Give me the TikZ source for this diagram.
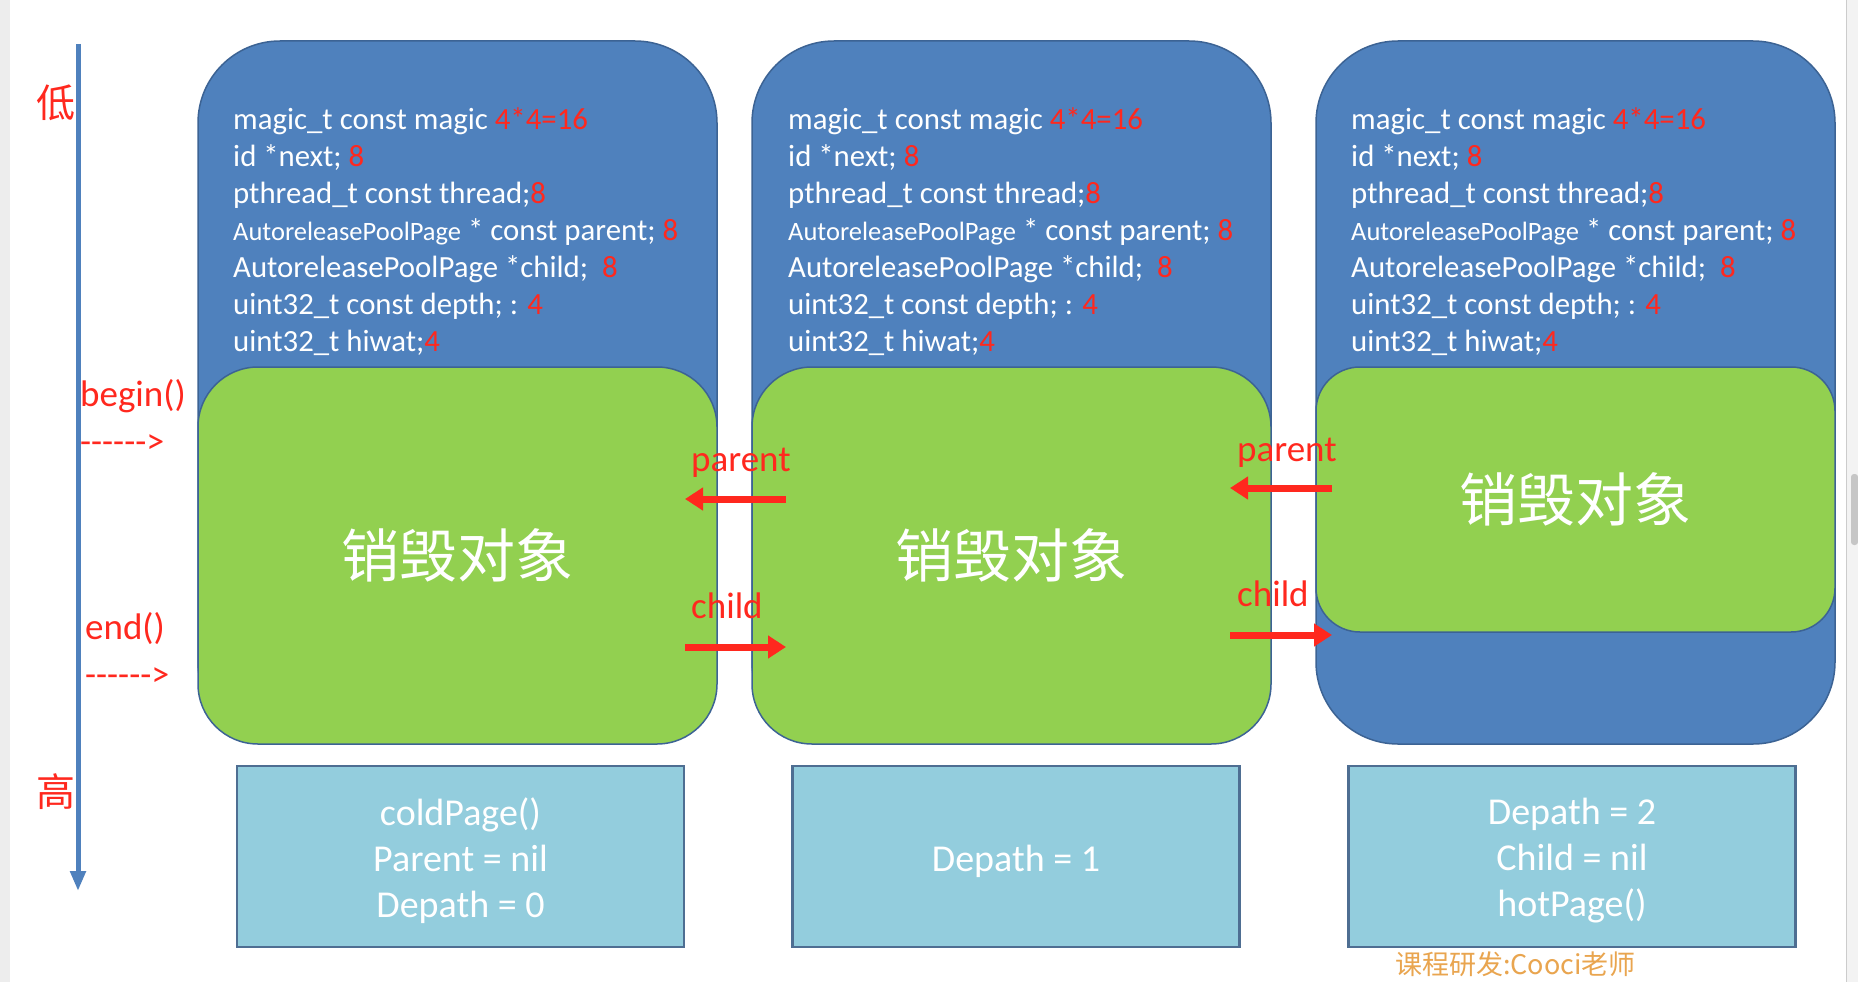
\documentclass[tikz,border=0pt]{standalone}
\usepackage{fontspec}
\setmainfont{Carlito}
\newfontfamily\cjk{Noto Sans CJK SC}
\usetikzlibrary{arrows.meta}
\definecolor{pblue}{HTML}{4F81BD}
\definecolor{pedge}{HTML}{3C6394}
\definecolor{pgreen}{HTML}{92D050}
\definecolor{paqua}{HTML}{93CDDD}
\definecolor{aedge}{HTML}{4E6E92}
\definecolor{myred}{RGB}{255,40,30}
\definecolor{wmorange}{HTML}{E9A54F}
\definecolor{framegrey}{HTML}{EDEDED}
\newcommand\rd[1]{\textcolor{myred}{#1}}
\newcommand\fieldlines[2]{%
  \node[fld] (#1a) at (#2,129) {magic\_t const magic \rd{4*4=16}};
  \node[fld] (#1b) at (#2,166) {id *next; \rd{8}};
  \node[fld] (#1c) at (#2,203) {pthread\_t const thread;\rd{8}};
  \node[fld] (#1d) at (#2,240) {{\fontsize{26.5}{30}\selectfont AutoreleasePoolPage} * const parent; \rd{8}};
  \node[fld] (#1e) at (#2,277) {AutoreleasePoolPage *child;\ \ \rd{8}};
  \node[fld] (#1f) at (#2,314) {uint32\_t const depth; : \rd{4}};
  \node[fld] (#1g) at (#2,351) {uint32\_t hiwat;\rd{4}};
}
\newcommand\dasharrowtext{-{}-{}-{}-{}-{}->}
\begin{document}
\begin{tikzpicture}[x=1pt,y=-1pt,
  bluepage/.style={draw=pedge, line width=1.5pt, fill=pblue, rounded corners=82pt,
    minimum width=519pt, minimum height=703pt, inner sep=0pt},
  greenarea/.style={draw=pedge, line width=1.5pt, fill=pgreen, rounded corners=60pt,
    minimum width=519pt, inner sep=0pt, text=white,
    font=\cjk\fontsize{58}{70}\selectfont},
  fld/.style={anchor=base west, inner sep=0pt, text=white, font=\fontsize{30.8}{37}\selectfont},
  infobox/.style={draw=aedge, line width=2.5pt, fill=paqua, minimum width=447pt,
    minimum height=181pt, inner sep=0pt, text=white, align=center,
    font=\fontsize{38}{46}\selectfont},
  infotext/.style={inner sep=0pt, text=white, align=center, font=\fontsize{38}{46}\selectfont},
  redlbl/.style={anchor=base west, inner sep=0pt, text=myred, font=\fontsize{37}{44}\selectfont},
  cjklbl/.style={inner sep=0pt, text=myred, font=\cjk\fontsize{39}{44}\selectfont},
  linkarrow/.style={draw=myred, line width=7pt, -{Triangle[length=18pt,width=22pt]}},
  axisline/.style={draw=pblue, line width=5pt, -{Triangle[length=20pt,width=15pt]}}
]
\clip (0,0) rectangle (1858,982);
\fill[white] (0,0) rectangle (1858,982);
% window frame strips
\fill[framegrey] (0,0) rectangle (10,982);
\fill[framegrey!70] (1846,0) rectangle (1858,982);
\draw[gray!40, line width=1pt] (1846,0) -- (1846,982);
\fill[gray!45, rounded corners=3pt] (1851,474) rectangle (1858,545);

% axis
\coordinate (axtop) at (78,44);
\coordinate (axbot) at (78,891);
\draw[axisline] (axtop) -- (axbot);
\node[cjklbl] (low) at (56,103) {低};
\node[cjklbl] (high) at (56,792) {高};
\node[redlbl] (beginlbl) at (80,406) {begin()};
\node[redlbl, font=\fontsize{36}{40}\selectfont] (begindash) at (80,453) {\dasharrowtext};
\node[redlbl] (endlbl) at (85,639) {end()};
\node[redlbl, font=\fontsize{36}{40}\selectfont] (enddash) at (85,686) {\dasharrowtext};

% pages
\node[bluepage] (blue1) at (457.5,392.5) {};
\node[bluepage] (blue2) at (1011.5,392.5) {};
\node[bluepage] (blue3) at (1575.5,392.5) {};
\node[greenarea, minimum height=377pt] (green1) at (457.5,555.5) {销毁对象};
\node[greenarea, minimum height=377pt] (green2) at (1011.5,555.5) {销毁对象};
\node[greenarea, minimum height=265pt, rounded corners=44pt] (green3) at (1575.5,499.5) {销毁对象};

\fieldlines{fa}{233}
\fieldlines{fb}{788}
\fieldlines{fc}{1351}

% links
\coordinate (p1s) at (786,499);
\coordinate (p1e) at (685,499);
\coordinate (c1s) at (685,647);
\coordinate (c1e) at (786,647);
\coordinate (p2s) at (1332,488);
\coordinate (p2e) at (1230,488);
\coordinate (c2s) at (1230,635);
\coordinate (c2e) at (1332,635);
\draw[linkarrow] (p1s) -- (p1e);
\draw[linkarrow] (c1s) -- (c1e);
\draw[linkarrow] (p2s) -- (p2e);
\draw[linkarrow] (c2s) -- (c2e);
\node[redlbl] (par1) at (691,471) {parent};
\node[redlbl] (chi1) at (691,618) {child};
\node[redlbl] (par2) at (1237,461) {parent};
\node[redlbl] (chi2) at (1237,606) {child};

% info boxes
\node[infobox] (info1) at (460.5,856.5) {};
\node[infobox] (info2) at (1016,856.5) {};
\node[infobox] (info3) at (1572,856.5) {};
\node[infotext] (info1t) at (460.5,861) {coldPage()\\Parent = nil\\Depath = 0};
\node[infotext] (info2t) at (1016,861) {Depath = 1};
\node[infotext] (info3t) at (1572,861) {Depath = 2\\Child = nil\\hotPage()};

% credit
\node[anchor=west, inner sep=0pt, text=wmorange, font=\cjk\fontsize{27}{32}\selectfont] (credit) at (1395,964) {课程研发:Cooci老师};
\end{tikzpicture}
\end{document}
